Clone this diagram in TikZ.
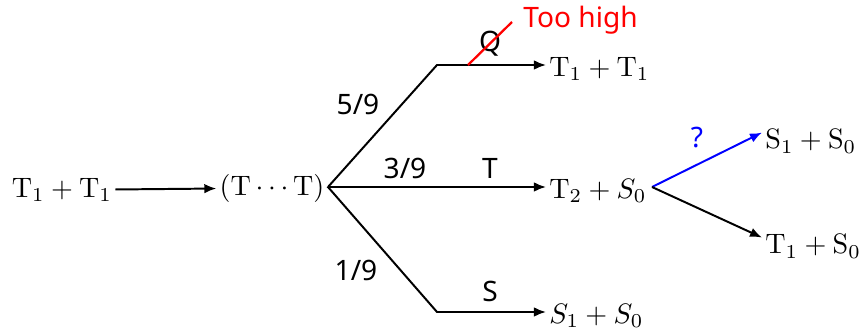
\documentclass[tikz,border=0pt]{standalone}
\usepackage{amsmath}
\usepackage{fontspec}
\newfontfamily\labfont{Noto Sans}
\usetikzlibrary{arrows.meta}

\begin{document}
\begin{tikzpicture}[x=0.0125cm,y=-0.0125cm,every node/.style={inner sep=1pt}]
\tikzset{arr/.style={line width=0.7pt,-{Latex[length=1.5mm,width=1.2mm]}},
         lab/.style={font=\labfont}}
\useasboundingbox (0,0) rectangle (859,329);
% start and complex
\node (tt) at (62,190) {$\mathrm{T}_1+\mathrm{T}_1$};
\node (cx) at (272,188) {$(\mathrm{T}\cdots\mathrm{T})$};
\draw[arr] (tt) -- (cx);
% three channels out of the complex
\coordinate (b) at (328,187);
\coordinate (u) at (437,65);
\coordinate (l) at (437,312);
\node[anchor=west] (hi) at (546,69) {$\mathrm{T}_1+\mathrm{T}_1$};
\node[anchor=west] (mid) at (546,191) {$\mathrm{T}_2+S_0$};
\node[anchor=west] (lo) at (546,316) {$S_1+S_0$};
\draw[line width=0.7pt] (cx.east) -- (b);
\draw[arr] (b) -- (u) -- (u -| hi.west);
\draw[arr] (b) -- (b -| mid.west);
\draw[arr] (b) -- (l) -- (l -| lo.west);
\node[lab] (p1) at (358,104) {5/9};
\node[lab] (p2) at (405,168) {3/9};
\node[lab] (p3) at (356,270) {1/9};
\node[lab] (cq) at (490,44) {Q};
\node[lab] (ct) at (490,168) {T};
\node[lab] (cs) at (490,291) {S};
% too high: crossed out
\coordinate (x1) at (468,65);
\coordinate (x2) at (512,22);
\draw[red,line width=0.8pt] (x1) -- (x2);
\node[lab,red,anchor=west] (th) at (520,20) {Too high};
% second step from T2 + S0
\coordinate (m) at (652,187);
\node[anchor=west] (ru) at (762,141) {$\mathrm{S}_1+\mathrm{S}_0$};
\node[anchor=west] (rl) at (762,246) {$\mathrm{T}_1+\mathrm{S}_0$};
\draw[arr,blue] (m) -- ([yshift=3pt]ru.west);
\draw[arr] (m) -- ([yshift=3pt]rl.west);
\node[lab,blue] (qq) at (697,138) {?};
\end{tikzpicture}
\end{document}
